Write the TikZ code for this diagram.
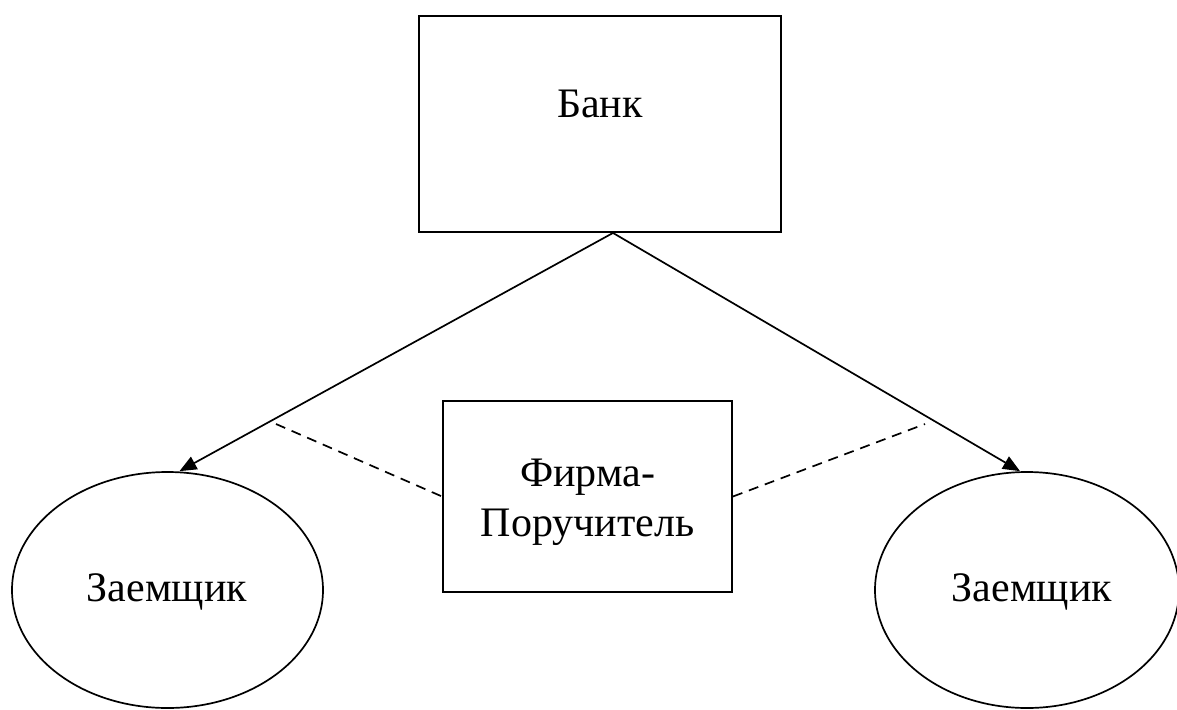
\documentclass[tikz,border=0pt]{standalone}
\usepackage{fontspec}
\setmainfont{Liberation Serif}
\usetikzlibrary{shapes.geometric,arrows.meta}
\begin{document}
\begin{tikzpicture}[x=1pt,y=-1pt,
  box/.style={draw,line width=1.9pt,rectangle,inner sep=0pt},
  oval/.style={draw,line width=1.7pt,ellipse,inner sep=0pt},
  txt/.style={font=\fontsize{42}{50}\selectfont,align=center,inner sep=0pt},
  link/.style={line width=1.7pt,-{Triangle[length=17pt,width=14pt]}},
  dashlink/.style={line width=1.7pt,dash pattern=on 10pt off 7pt}]
\useasboundingbox (0,0) rectangle (1177,709);
\clip (0,0) rectangle (1177,709);
\node[box,minimum width=362pt,minimum height=216pt] (bank) at (600,124) {};
\node[txt] (banktext) at (600,104) {Банк};
\node[box,minimum width=289pt,minimum height=191pt] (firm) at (587.5,496.5) {};
\node[txt] (firmtext) at (587.5,502) {Фирма-\\Поручитель};
\node[oval,minimum width=311pt,minimum height=236pt] (zl) at (167.5,590) {};
\node[txt] (zltext) at (167,592) {Заемщик};
\node[oval,minimum width=304pt,minimum height=236pt] (zr) at (1027,590) {};
\node[txt] (zrtext) at (1032,592) {Заемщик};
\coordinate (apex) at ([xshift=13pt]bank.south);
\coordinate (dl) at (276,424);
\coordinate (dr) at (925,424);
\draw[link] (apex) -- ([xshift=12pt]zl.north);
\draw[link] (apex) -- ([xshift=-7pt]zr.north);
\draw[dashlink] (dl) -- (firm.west);
\draw[dashlink] (firm.east) -- (dr);
\end{tikzpicture}
\end{document}
